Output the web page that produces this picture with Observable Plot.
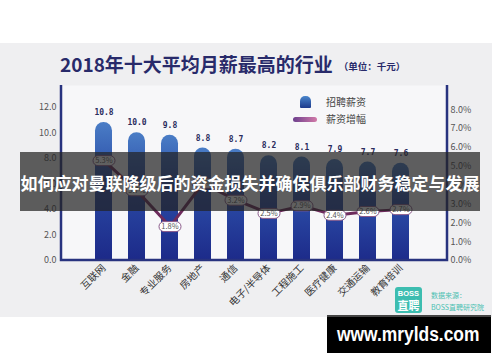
<!DOCTYPE html>
<html><head><meta charset="utf-8">
<script src="https://cdn.jsdelivr.net/npm/d3@7"></script>
<script src="https://cdn.jsdelivr.net/npm/@observablehq/plot@0.6"></script>
<style>
body{margin:0;background:#fff;width:500px;height:362px;overflow:hidden;position:relative;font-family:"Noto Sans CJK SC",sans-serif}
#bg{position:absolute;left:0;top:43px;width:492px;height:274px;background:#efeff1}
#chart{position:absolute;left:0;top:0}
#title{position:absolute;left:60px;top:54px;font-size:19px;line-height:19px;font-weight:bold;color:#282a6a;white-space:nowrap}
#title span{font-size:9.5px;margin-left:6px;vertical-align:2px}
.lg{position:absolute;font-size:10px;line-height:12px;color:#444}
#sw1{position:absolute;left:300px;top:96px;width:11px;height:12px;border-radius:5px 5px 1px 1px;background:linear-gradient(#4a86cc,#1d3a8c)}
#sw2{position:absolute;left:293px;top:117px;width:24px;height:4.5px;border-radius:3px;background:linear-gradient(to right,#6d3f8e,#d27aa8)}
#logo{position:absolute;left:395px;top:287px;width:27px;height:26px;background:#3dbdb0;border-radius:3px;color:#fff;text-align:center;font-weight:bold}
#logo .a{font-size:7.5px;line-height:10px;margin-top:2px;font-family:"Liberation Sans",sans-serif}
#logo .b{font-size:11px;line-height:12px}
.src{position:absolute;left:431px;font-size:7px;line-height:9px;color:#4cbfb2;white-space:nowrap}
#banner{position:absolute;left:20px;top:152px;width:460px;height:59px;background:rgba(35,35,35,0.72);color:#fff;font-size:17px;font-weight:bold;display:flex;align-items:center;justify-content:center;white-space:nowrap;padding-top:2px;box-sizing:border-box}
#site{position:absolute;left:327px;top:315px;width:164px;height:38px;background:#000;border-top:2px solid #444;box-sizing:border-box}
#site div{position:absolute;left:10px;top:6px;font-family:"Liberation Sans",sans-serif;font-weight:bold;font-size:20px;line-height:22px;color:#fff;transform:scaleX(0.87);transform-origin:0 0;white-space:nowrap}
</style></head><body>
<div id="bg"></div>
<div id="chart"></div>
<div id="title">2018年十大平均月薪最高的行业<span>（单位：千元）</span></div>
<div id="sw1"></div><div class="lg" style="left:326px;top:96px">招聘薪资</div>
<div id="sw2"></div><div class="lg" style="left:326px;top:113px">薪资增幅</div>
<div id="logo"><div class="a">BOSS</div><div class="b">直聘</div></div>
<div class="src" style="top:291px">数据来源：</div>
<div class="src" style="top:303px">BOSS直聘研究院</div>
<div id="banner">如何应对曼联降级后的资金损失并确保俱乐部财务稳定与发展</div>
<div id="site"><div>www.mrylds.com</div></div>
<script>
const industries = ["互联网","金融","专业服务","房地产","通信","电子/半导体","工程施工","医疗健康","交通运输","教育培训"];
const salary = [10.8, 10.0, 9.8, 8.8, 8.7, 8.2, 8.1, 7.9, 7.7, 7.6];
const growth = [5.3, 3.7, 1.8, 4.1, 3.2, 2.5, 2.9, 2.4, 2.6, 2.7];
const leftTicks = [0, 2, 4, 6, 8, 10, 12];
const rightTicks = [0, 1, 2, 3, 4, 5, 6, 7, 8];

const yTop = 13.69;      // left axis maximum (千元)
const k = 1.474;         // 1% of growth in left-axis units

const data = industries.map((name, i) => ({name, s: salary[i], g: growth[i]}));

function defs() {
  const d = d3.create("svg:defs");
  const g = d.append("linearGradient").attr("id", "barGrad")
    .attr("x1", 0).attr("y1", 0).attr("x2", 0).attr("y2", 1);
  g.append("stop").attr("offset", "0%").attr("stop-color", "#4a7dc6");
  g.append("stop").attr("offset", "35%").attr("stop-color", "#2c4ea8");
  g.append("stop").attr("offset", "100%").attr("stop-color", "#1a2484");
  return d.node();
}

function frameLines(index, scales, values, dim) {
  const l = dim.marginLeft, r = dim.width - dim.marginRight;
  const t = dim.marginTop, b = dim.height - dim.marginBottom;
  const g = d3.create("svg:g");
  g.append("path").attr("d", `M${l},${t}V${b}H${r}V${t}`)
    .attr("fill", "none").attr("stroke", "#28337f").attr("stroke-width", 2.5);
  return g.node();
}

const bubble = {
  draw(ctx) {
    ctx.moveTo(-6, -5);
    ctx.lineTo(6, -5);
    ctx.arc(6, 0, 5, -Math.PI / 2, Math.PI / 2);
    ctx.lineTo(-6, 5);
    ctx.arc(-6, 0, 5, Math.PI / 2, 3 * Math.PI / 2);
    ctx.closePath();
  }
};

const chart = Plot.plot({
  width: 500,
  height: 362,
  marginLeft: 61,
  marginRight: 53,
  marginTop: 85,
  marginBottom: 102,
  style: {background: "transparent", fontFamily: "Noto Sans CJK SC", color: "#555"},
  x: {domain: industries, paddingInner: 0.49, paddingOuter: 1.0, align: 0.47},
  y: {domain: [0, yTop]},
  marks: [
    defs,
    Plot.frame({fill: "#f7f7f9", stroke: null}),
    Plot.barY(data, {x: "name", y1: -1, y2: "s", fill: "url(#barGrad)", rx: 8.5, clip: true}),
    Plot.text(data, {x: "name", y: "s", dy: -10, text: d => d.s.toFixed(1), fontFamily: "DejaVu Sans Mono", fontWeight: "bold", fontSize: 8, fill: "#2b2d5e"}),
    Plot.line(data, {x: "name", y: d => d.g * k, stroke: "#6d2b5c", strokeWidth: 3, strokeLinejoin: "round"}),
    Plot.dot(data, {x: "name", y: d => d.g * k, symbol: bubble, fill: "#fff", stroke: "#8a5a8a", strokeWidth: 1}),
    Plot.text(data, {x: "name", y: d => d.g * k, text: d => d.g.toFixed(1) + "%", fontSize: 7.5, fill: "#555"}),
    frameLines,
    Plot.axisY({ticks: leftTicks, tickFormat: d => d.toFixed(1), tickSize: 0, tickPadding: 5, fontSize: 9, fill: "#555", label: null}),
    Plot.axisY({anchor: "right", ticks: rightTicks.map(p => p * k), tickFormat: d => (d / k).toFixed(1) + "%", tickSize: 0, tickPadding: 3, fontSize: 9, fill: "#555", label: null}),
    Plot.axisX({tickRotate: -45, tickSize: 0, tickPadding: 6, fontSize: 10, fill: "#333", label: null})
  ]
});
document.getElementById("chart").appendChild(chart);
</script>
</body></html>
